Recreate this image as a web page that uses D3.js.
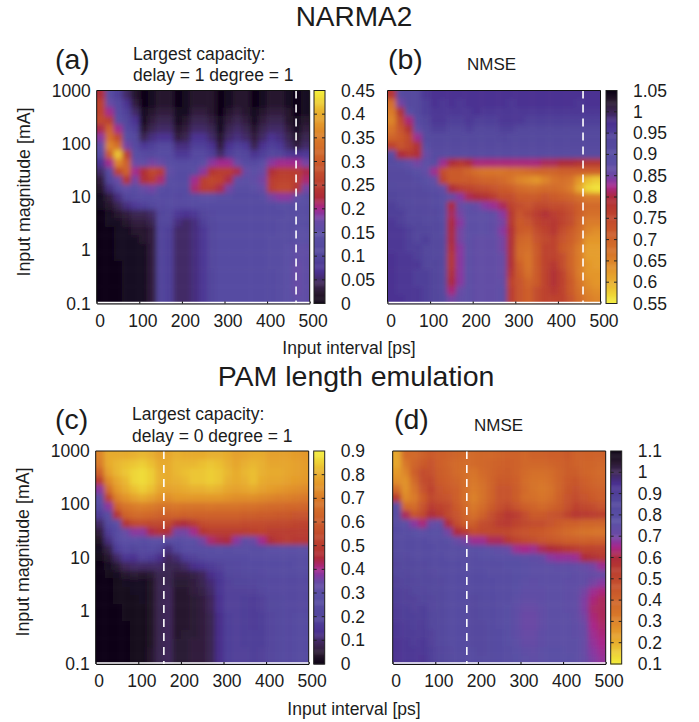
<!DOCTYPE html>
<html>
<head>
<meta charset="utf-8">
<script src="https://cdn.jsdelivr.net/npm/d3@7"></script>
<style>
body { margin: 0; background: #fff; }
text { font-family: "Liberation Sans", Arial, sans-serif; fill: #1c1c1c; }
</style>
</head>
<body>
<div id="chart"></div>
<script>
// Start of each interval column [ps], each column spans 20 ps.
var intervals = [0, 20, 40, 60, 80, 100, 120, 140, 160, 180, 200, 220, 240, 260, 280, 300, 320, 340, 360, 380, 400, 420, 440, 460, 480];
// Top edge of each magnitude row [mA], last entry closes the bottom row.
var magnitudes = [1000, 692, 479, 331, 229, 158, 110, 75.9, 52.5, 36.3, 25.1, 17.4, 12, 8.32, 5.75, 3.98, 2.75, 1.91, 1.32, 0.912, 0.631, 0.437, 0.302, 0.209, 0.145, 0.1];

var xTicks = [0, 100, 200, 300, 400, 500];
var yTicks = [0.1, 1, 10, 100, 1000];

var capacityA = [
[.23,.14,.09,.05,.02,.00,.01,.02,.02,.00,.01,.02,.02,.02,.00,.01,.02,.02,.00,.01,.02,.02,.01,.00,.01],
[.26,.17,.12,.07,.03,.00,.01,.02,.02,.00,.01,.02,.02,.02,.00,.01,.02,.02,.00,.01,.02,.02,.01,.00,.01],
[.26,.20,.13,.09,.05,.01,.02,.03,.03,.01,.01,.03,.03,.02,.00,.02,.03,.02,.01,.02,.03,.03,.02,.00,.01],
[.27,.25,.14,.10,.07,.01,.03,.04,.04,.01,.02,.04,.04,.03,.01,.03,.04,.03,.01,.03,.04,.04,.02,.01,.02],
[.22,.31,.20,.12,.09,.02,.04,.05,.05,.02,.03,.05,.05,.04,.01,.04,.05,.04,.02,.04,.05,.05,.03,.01,.03],
[.19,.33,.27,.14,.11,.04,.06,.07,.07,.03,.04,.07,.07,.05,.02,.05,.06,.05,.03,.05,.07,.06,.04,.02,.04],
[.16,.36,.33,.18,.12,.08,.09,.11,.11,.06,.06,.09,.09,.07,.03,.07,.09,.08,.04,.07,.09,.08,.05,.03,.05],
[.13,.30,.42,.25,.14,.12,.11,.13,.13,.08,.08,.12,.12,.09,.05,.09,.11,.10,.07,.09,.11,.10,.08,.07,.08],
[.07,.20,.36,.31,.17,.16,.18,.17,.14,.13,.13,.13,.15,.19,.20,.20,.17,.13,.12,.15,.19,.20,.20,.20,.18],
[.05,.13,.26,.31,.20,.23,.27,.25,.16,.13,.13,.14,.19,.24,.25,.25,.22,.17,.15,.17,.23,.25,.25,.25,.22],
[.03,.10,.17,.24,.18,.23,.25,.21,.14,.13,.13,.20,.25,.27,.26,.22,.16,.15,.16,.18,.25,.26,.26,.25,.21],
[.02,.06,.11,.16,.14,.17,.18,.14,.13,.13,.13,.21,.25,.25,.22,.18,.14,.14,.15,.17,.25,.27,.27,.24,.18],
[.01,.03,.06,.10,.12,.13,.13,.13,.13,.12,.13,.14,.15,.15,.14,.14,.13,.13,.13,.14,.18,.19,.19,.16,.14],
[.01,.02,.04,.06,.08,.09,.10,.12,.13,.12,.12,.13,.13,.13,.13,.13,.13,.13,.13,.13,.13,.14,.14,.14,.14],
[.00,.01,.02,.03,.04,.04,.05,.10,.11,.08,.07,.08,.10,.12,.13,.13,.13,.13,.13,.13,.13,.13,.14,.14,.14],
[.00,.01,.01,.02,.03,.03,.04,.10,.10,.06,.05,.06,.09,.11,.13,.13,.13,.13,.13,.13,.13,.14,.14,.14,.14],
[.00,.00,.01,.01,.02,.02,.03,.10,.09,.05,.05,.06,.08,.11,.13,.13,.13,.13,.13,.13,.13,.14,.14,.15,.15],
[.00,.00,.01,.01,.01,.02,.03,.10,.09,.05,.05,.06,.08,.11,.13,.13,.13,.13,.13,.13,.14,.14,.14,.15,.15],
[.00,.00,.01,.01,.01,.01,.03,.10,.09,.05,.05,.06,.08,.11,.13,.13,.13,.13,.13,.13,.14,.14,.15,.16,.16],
[.00,.00,.01,.01,.01,.01,.03,.10,.09,.05,.05,.06,.08,.11,.13,.13,.13,.13,.13,.13,.14,.14,.15,.16,.16],
[.00,.00,.00,.01,.01,.01,.03,.10,.09,.05,.05,.06,.08,.11,.13,.13,.13,.13,.13,.13,.14,.14,.15,.17,.16],
[.00,.00,.00,.01,.01,.01,.03,.10,.09,.05,.05,.06,.08,.10,.13,.13,.13,.13,.13,.13,.13,.14,.15,.17,.16],
[.00,.00,.00,.01,.01,.01,.03,.10,.09,.05,.05,.06,.08,.10,.13,.13,.13,.13,.13,.13,.13,.14,.15,.17,.16],
[.00,.00,.00,.01,.01,.01,.03,.10,.09,.05,.05,.06,.08,.10,.13,.13,.13,.13,.13,.13,.13,.14,.15,.17,.16],
[.00,.00,.00,.01,.01,.01,.03,.10,.09,.05,.05,.06,.08,.10,.13,.13,.13,.13,.13,.13,.13,.14,.15,.16,.16]
];

var nmseB = [
[.78,.91,.92,.93,.96,.97,.97,.97,.97,.97,.97,.97,.97,.97,.97,.97,.97,.97,.97,.97,.97,.97,.97,.97,.97],
[.68,.85,.92,.93,.95,.97,.96,.97,.96,.97,.97,.97,.97,.97,.96,.97,.97,.97,.97,.97,.97,.97,.96,.97,.97],
[.66,.79,.89,.93,.95,.96,.96,.96,.96,.96,.97,.96,.96,.96,.96,.96,.96,.96,.96,.96,.96,.96,.96,.96,.96],
[.65,.75,.82,.91,.94,.96,.96,.95,.95,.96,.95,.95,.95,.96,.96,.96,.95,.95,.95,.95,.95,.95,.95,.95,.95],
[.67,.73,.79,.87,.93,.95,.95,.94,.94,.95,.94,.94,.94,.95,.95,.94,.94,.94,.94,.94,.94,.94,.94,.94,.94],
[.70,.72,.75,.83,.92,.93,.93,.93,.93,.93,.93,.93,.93,.94,.93,.93,.93,.93,.93,.93,.93,.93,.93,.93,.93],
[.76,.73,.75,.79,.90,.92,.92,.92,.92,.92,.92,.92,.92,.92,.92,.92,.92,.92,.92,.92,.92,.92,.92,.92,.92],
[.90,.80,.78,.79,.86,.91,.91,.91,.91,.91,.91,.91,.91,.91,.91,.91,.91,.91,.91,.91,.91,.91,.91,.91,.91],
[.91,.90,.87,.85,.88,.90,.83,.80,.78,.80,.82,.82,.82,.82,.82,.82,.82,.82,.81,.81,.80,.80,.79,.78,.78],
[.92,.92,.91,.89,.87,.83,.74,.72,.72,.70,.68,.67,.67,.67,.68,.68,.69,.70,.70,.70,.71,.71,.71,.71,.71],
[.92,.92,.92,.91,.89,.87,.76,.72,.72,.72,.71,.70,.70,.69,.67,.65,.64,.63,.65,.67,.68,.67,.63,.59,.58],
[.93,.92,.92,.92,.91,.90,.87,.80,.77,.76,.75,.74,.73,.72,.71,.69,.68,.68,.69,.69,.68,.66,.61,.57,.56],
[.94,.93,.92,.92,.92,.91,.90,.87,.84,.81,.80,.79,.77,.74,.74,.72,.72,.72,.73,.72,.71,.70,.68,.66,.66],
[.95,.94,.93,.92,.92,.91,.90,.80,.86,.88,.86,.84,.83,.81,.76,.74,.73,.75,.75,.74,.74,.73,.71,.69,.69],
[.95,.95,.93,.93,.92,.92,.90,.81,.85,.88,.88,.88,.87,.84,.78,.73,.75,.77,.79,.77,.76,.74,.71,.68,.68],
[.96,.95,.94,.94,.93,.93,.91,.80,.84,.88,.88,.88,.87,.85,.78,.72,.73,.76,.77,.78,.76,.74,.70,.66,.66],
[.96,.96,.95,.94,.94,.93,.91,.80,.85,.88,.88,.88,.87,.84,.79,.72,.71,.74,.76,.78,.74,.72,.69,.65,.64],
[.96,.96,.95,.94,.95,.93,.92,.80,.85,.88,.87,.87,.87,.85,.79,.70,.69,.73,.75,.76,.73,.71,.68,.63,.63],
[.96,.96,.95,.95,.94,.93,.92,.79,.84,.88,.87,.87,.87,.85,.79,.69,.68,.72,.76,.76,.72,.70,.66,.62,.62],
[.97,.96,.96,.95,.94,.93,.92,.78,.84,.88,.87,.87,.87,.86,.79,.69,.67,.72,.76,.76,.74,.70,.66,.62,.62],
[.97,.96,.96,.96,.94,.94,.92,.78,.84,.88,.87,.87,.87,.86,.79,.71,.67,.72,.76,.78,.74,.70,.66,.63,.62],
[.97,.96,.96,.95,.95,.94,.92,.79,.84,.88,.87,.87,.87,.86,.78,.72,.68,.72,.76,.79,.76,.71,.66,.63,.63],
[.97,.96,.96,.95,.95,.94,.92,.80,.84,.88,.87,.87,.87,.87,.76,.73,.70,.72,.76,.79,.76,.72,.67,.64,.63],
[.97,.96,.96,.96,.95,.94,.92,.82,.86,.88,.87,.87,.87,.88,.77,.73,.71,.74,.76,.78,.76,.72,.68,.65,.64],
[.97,.97,.96,.96,.95,.94,.93,.85,.87,.88,.87,.87,.87,.88,.77,.73,.71,.74,.76,.76,.76,.73,.69,.66,.65]
];

var capacityC = [
[.72,.80,.80,.80,.81,.82,.81,.78,.79,.81,.80,.80,.80,.81,.81,.80,.78,.79,.80,.80,.78,.78,.78,.77,.76],
[.70,.80,.82,.83,.84,.85,.83,.80,.80,.82,.82,.82,.83,.84,.83,.81,.79,.81,.82,.81,.79,.79,.79,.78,.77],
[.62,.78,.82,.84,.86,.87,.85,.81,.80,.82,.83,.84,.84,.85,.84,.82,.80,.82,.83,.81,.80,.80,.79,.78,.77],
[.50,.73,.79,.82,.86,.87,.85,.81,.80,.81,.82,.84,.84,.85,.84,.81,.80,.81,.83,.80,.79,.79,.78,.77,.76],
[.38,.66,.76,.80,.83,.85,.83,.79,.78,.79,.80,.81,.81,.82,.81,.79,.78,.79,.80,.78,.77,.76,.75,.74,.73],
[.30,.52,.71,.75,.78,.80,.78,.75,.74,.76,.76,.76,.76,.76,.76,.75,.74,.74,.74,.73,.72,.71,.71,.70,.69],
[.26,.38,.62,.68,.70,.71,.70,.68,.68,.69,.68,.68,.68,.69,.68,.68,.68,.67,.67,.66,.65,.65,.64,.64,.63],
[.17,.28,.48,.62,.65,.65,.64,.62,.62,.63,.62,.62,.62,.62,.62,.62,.62,.61,.61,.60,.60,.59,.59,.58,.58],
[.10,.22,.30,.48,.54,.55,.54,.54,.54,.47,.46,.50,.55,.56,.56,.56,.56,.55,.55,.55,.54,.54,.54,.53,.52],
[.06,.17,.26,.34,.38,.38,.44,.47,.46,.36,.36,.40,.48,.50,.50,.50,.50,.50,.51,.52,.50,.50,.50,.50,.50],
[.03,.12,.24,.30,.30,.28,.30,.30,.28,.27,.30,.30,.36,.42,.44,.45,.38,.32,.35,.40,.46,.49,.50,.49,.49],
[.02,.07,.17,.24,.20,.24,.25,.20,.12,.20,.27,.28,.28,.28,.29,.28,.29,.29,.28,.28,.30,.30,.30,.30,.30],
[.01,.04,.10,.15,.14,.19,.17,.13,.09,.11,.17,.19,.22,.25,.25,.25,.25,.26,.27,.27,.27,.27,.27,.27,.27],
[.00,.02,.05,.09,.10,.10,.10,.10,.08,.08,.10,.13,.15,.17,.19,.23,.24,.25,.25,.25,.26,.26,.26,.27,.27],
[.00,.01,.02,.04,.05,.04,.05,.08,.08,.06,.06,.07,.09,.13,.16,.20,.21,.22,.23,.24,.25,.25,.25,.25,.25],
[.00,.00,.01,.02,.02,.02,.03,.08,.08,.05,.05,.06,.08,.11,.15,.19,.20,.20,.21,.23,.24,.24,.24,.24,.24],
[.00,.00,.01,.01,.02,.02,.03,.08,.09,.04,.04,.06,.07,.10,.15,.19,.19,.19,.19,.21,.24,.24,.24,.24,.24],
[.00,.00,.01,.01,.01,.02,.03,.08,.09,.04,.04,.05,.06,.09,.14,.19,.19,.18,.17,.19,.22,.23,.24,.24,.24],
[.00,.00,.00,.01,.01,.01,.03,.08,.09,.04,.04,.05,.06,.09,.14,.19,.19,.18,.17,.19,.22,.23,.24,.24,.24],
[.00,.00,.00,.01,.01,.01,.03,.08,.09,.04,.04,.05,.06,.08,.13,.18,.19,.18,.17,.18,.21,.23,.24,.25,.25],
[.00,.00,.00,.00,.01,.01,.03,.08,.09,.04,.04,.05,.06,.08,.13,.18,.19,.18,.17,.18,.21,.23,.24,.25,.25],
[.00,.00,.00,.00,.01,.01,.03,.08,.09,.04,.05,.05,.06,.08,.13,.18,.19,.18,.18,.18,.21,.23,.24,.25,.25],
[.00,.00,.00,.00,.01,.01,.03,.08,.09,.05,.05,.06,.06,.08,.13,.18,.19,.18,.18,.18,.21,.23,.24,.25,.25],
[.00,.00,.00,.00,.01,.01,.04,.08,.09,.05,.05,.06,.06,.08,.13,.18,.19,.19,.18,.19,.21,.23,.24,.25,.25],
[.00,.00,.00,.00,.01,.01,.04,.08,.09,.05,.05,.06,.06,.08,.13,.18,.19,.19,.18,.19,.21,.23,.24,.25,.25]
];

var nmseD = [
[.22,.38,.38,.41,.44,.42,.41,.40,.38,.38,.39,.39,.40,.41,.41,.39,.41,.41,.42,.42,.44,.41,.41,.41,.41],
[.22,.33,.40,.44,.46,.42,.40,.38,.37,.38,.39,.40,.41,.42,.41,.39,.39,.39,.40,.41,.43,.41,.40,.40,.39],
[.25,.30,.42,.48,.47,.43,.41,.38,.36,.34,.38,.40,.42,.43,.41,.38,.36,.36,.37,.40,.43,.43,.40,.39,.38],
[.28,.27,.38,.48,.50,.44,.42,.40,.36,.33,.36,.40,.44,.44,.42,.37,.35,.34,.36,.40,.44,.45,.42,.40,.39],
[.38,.27,.34,.46,.52,.46,.44,.42,.36,.32,.35,.40,.46,.46,.43,.38,.35,.33,.35,.40,.45,.47,.44,.42,.41],
[.55,.29,.32,.42,.50,.47,.46,.42,.36,.31,.35,.40,.46,.46,.43,.37,.36,.34,.36,.41,.46,.48,.46,.44,.42],
[.78,.38,.37,.46,.54,.52,.50,.44,.38,.33,.37,.43,.47,.50,.46,.42,.40,.38,.40,.43,.47,.52,.50,.48,.46],
[.80,.62,.46,.50,.60,.56,.50,.46,.40,.36,.41,.47,.52,.56,.54,.48,.44,.44,.46,.47,.52,.56,.55,.54,.53],
[.80,.76,.68,.64,.72,.74,.60,.49,.42,.43,.48,.50,.54,.55,.52,.50,.48,.48,.46,.44,.42,.42,.40,.40,.40],
[.81,.80,.78,.76,.78,.78,.70,.60,.55,.48,.50,.50,.50,.50,.47,.46,.45,.44,.42,.40,.38,.36,.35,.34,.34],
[.82,.82,.82,.81,.80,.79,.78,.72,.70,.66,.66,.62,.62,.56,.52,.50,.48,.46,.45,.44,.42,.42,.41,.42,.42],
[.83,.82,.82,.82,.81,.80,.80,.79,.78,.78,.77,.76,.74,.72,.66,.65,.66,.62,.60,.58,.56,.54,.52,.52,.52],
[.85,.84,.83,.82,.82,.81,.80,.80,.80,.79,.78,.78,.77,.77,.77,.76,.75,.73,.68,.67,.67,.66,.60,.58,.56],
[.87,.85,.85,.84,.83,.82,.81,.81,.80,.80,.80,.80,.79,.78,.78,.77,.76,.76,.76,.75,.75,.74,.72,.70,.66],
[.88,.87,.86,.85,.84,.83,.81,.81,.81,.82,.81,.80,.80,.79,.78,.77,.76,.76,.76,.76,.76,.75,.74,.73,.72],
[.89,.88,.87,.86,.85,.84,.82,.81,.81,.82,.82,.81,.80,.79,.78,.76,.75,.76,.76,.76,.75,.75,.74,.70,.68],
[.90,.89,.88,.87,.86,.85,.82,.81,.82,.83,.82,.81,.80,.79,.77,.75,.75,.75,.76,.76,.75,.74,.70,.66,.64],
[.90,.89,.89,.88,.87,.85,.82,.81,.82,.84,.83,.82,.80,.79,.76,.74,.74,.75,.76,.76,.75,.74,.69,.64,.62],
[.91,.90,.89,.90,.87,.85,.82,.81,.82,.84,.83,.82,.80,.78,.75,.72,.72,.74,.76,.76,.75,.74,.69,.63,.62],
[.91,.90,.90,.90,.88,.85,.82,.81,.82,.84,.83,.82,.80,.78,.75,.71,.71,.74,.76,.76,.76,.74,.70,.64,.62],
[.92,.91,.90,.91,.88,.85,.82,.81,.82,.84,.84,.82,.80,.78,.75,.71,.71,.74,.76,.76,.76,.75,.71,.65,.63],
[.92,.91,.91,.91,.89,.85,.82,.81,.82,.84,.84,.83,.81,.78,.75,.72,.72,.75,.76,.76,.76,.75,.72,.66,.64],
[.93,.92,.91,.92,.89,.86,.83,.81,.82,.84,.84,.83,.81,.78,.76,.73,.73,.75,.76,.76,.76,.76,.72,.67,.65],
[.93,.92,.92,.92,.90,.87,.84,.82,.82,.83,.84,.83,.81,.79,.77,.75,.74,.76,.77,.77,.76,.76,.72,.68,.66],
[.93,.92,.92,.93,.90,.88,.85,.83,.82,.82,.83,.83,.81,.80,.78,.76,.75,.76,.77,.77,.77,.76,.73,.69,.67]
];

var ticksA = [0, .05, .1, .15, .2, .25, .3, .35, .4, .45];
var ticksB = [.55, .6, .65, .7, .75, .8, .85, .9, .95, 1, 1.05];
var ticksC = [0, .1, .2, .3, .4, .5, .6, .7, .8, .9];
var ticksD = [.1, .2, .3, .4, .5, .6, .7, .8, .9, 1, 1.1];

// Colour map.
var paletteStops = [0, .05, .1, .15, .22, .33, .39, .42, .45, .5, .55, .66, .77, .85, .9, .96, 1];
var paletteColors = ["#0c0214", "#2a1a30", "#40285a", "#4a3090", "#53469c", "#5a50a5", "#6a4aa5", "#8838a0", "#a8288a", "#ad2a3a", "#b83a30", "#ca5a2c", "#d8782a", "#e49a2c", "#e8b030", "#efd838", "#f4ee3c"];
var palette = d3.scaleLinear().domain(paletteStops).range(paletteColors);

var panels = [
    { name: "(a)", data: capacityA, cbTicks: ticksA, flip: false, dash: 468, left: 96.7, top: 90.5, barLeft: 314, nameX: 55, noteX: 133, note: ["Largest capacity:", "delay = 1 degree = 1"] },
    { name: "(b)", data: nmseB, cbTicks: ticksB, flip: true, dash: 459, left: 387.5, top: 90.5, barLeft: 606, nameX: 388, noteX: 467, note: ["NMSE"] },
    { name: "(c)", data: capacityC, cbTicks: ticksC, flip: false, dash: 160, left: 95.7, top: 451, barLeft: 313.7, nameX: 55, noteX: 132, note: ["Largest capacity:", "delay = 0 degree = 1"] },
    { name: "(d)", data: nmseD, cbTicks: ticksD, flip: true, dash: 174, left: 392.7, top: 451, barLeft: 610.7, nameX: 394, noteX: 474, note: ["NMSE"] }
];

var _size = 213;
var _barWidth = 11;

var svg = d3.select("#chart").append("svg")
    .attr("width", 699)
    .attr("height", 722)
    .style("display", "block");

// Soften the cell edges a little, the original is a fine smoothed grid.
svg.append("defs").append("filter")
    .attr("id", "soft")
    .attr("filterUnits", "userSpaceOnUse")
    .attr("x", 0).attr("y", 0).attr("width", 699).attr("height", 722)
    .append("feGaussianBlur")
    .attr("stdDeviation", 2.5);

function drawPanel(p, i) {
    var x = d3.scaleLinear().domain([0, 500]).range([p.left, p.left + _size]);
    var y = d3.scaleLog().domain([0.1, 1000]).range([p.top + _size, p.top]);

    var extent = d3.extent(p.cbTicks);
    var t = d3.scaleLinear().domain(p.flip ? [extent[1], extent[0]] : extent).range([0, 1]);

    svg.select("defs").append("clipPath")
        .attr("id", "clip" + i)
        .append("rect")
        .attr("x", p.left).attr("y", p.top)
        .attr("width", _size).attr("height", _size);

    var cells = svg.append("g")
        .attr("clip-path", "url(#clip" + i + ")")
        .append("g")
        .attr("filter", "url(#soft)");

    // Outer cells run past the frame so the blur keeps its colour at the edge.
    p.data.forEach(function(row, r) {
        cells.selectAll(".r" + r)
            .data(row)
            .enter()
            .append("rect")
            .attr("class", "r" + r)
            .attr("x", (d, c) => x(intervals[c]) - (c == 0 ? 12 : 0))
            .attr("y", y(magnitudes[r]) - (r == 0 ? 12 : 0))
            .attr("width", (d, c) => x(20) - x(0) + 0.5 + (c == 0 || c == intervals.length - 1 ? 12 : 0))
            .attr("height", y(magnitudes[r + 1]) - y(magnitudes[r]) + 0.5 + (r == 0 || r == p.data.length - 1 ? 12 : 0))
            .attr("fill", d => palette(t(d)));
    });

    // Dashed marker.
    svg.append("line")
        .attr("x1", x(p.dash)).attr("x2", x(p.dash))
        .attr("y1", y(1000)).attr("y2", y(0.1))
        .attr("stroke", "#fff")
        .attr("stroke-width", 1.6)
        .attr("stroke-dasharray", "8,6");

    // Frame, the bottom edge shows a white line on top of the axis.
    svg.append("path")
        .attr("d", "M" + p.left + "," + (p.top + _size) + "V" + p.top + "H" + (p.left + _size) + "V" + (p.top + _size))
        .attr("fill", "none")
        .attr("stroke", "#111")
        .attr("stroke-width", 1);
    svg.append("line")
        .attr("x1", p.left).attr("x2", p.left + _size)
        .attr("y1", p.top + _size - 1).attr("y2", p.top + _size - 1)
        .attr("stroke", "#fff")
        .attr("stroke-width", 1.5);

    var xAxis = svg.append("g")
        .attr("transform", "translate(0," + (p.top + _size) + ")")
        .call(d3.axisBottom(x).tickValues(xTicks).tickSizeInner(-2).tickSizeOuter(0).tickPadding(11));
    xAxis.select(".domain").attr("stroke", "#111");
    xAxis.selectAll("text")
        .attr("font-size", 17.5)
        .attr("dx", 3);

    // Only the left column carries the magnitude ticks.
    if(!p.flip) {
        var yAxis = svg.append("g")
            .attr("transform", "translate(" + p.left + ",0)")
            .call(d3.axisLeft(y).tickValues(yTicks).tickFormat(d => d).tickSize(0).tickPadding(6));
        yAxis.select(".domain").remove();
        yAxis.selectAll("text").attr("font-size", 17.5);
    }

    drawColorBar(p, t, extent);

    // Panel letter and note above it.
    svg.append("text")
        .attr("x", p.nameX)
        .attr("y", p.top - 22)
        .attr("font-size", 28.5)
        .attr("fill", "#333")
        .text(p.name);

    svg.selectAll(".note" + i)
        .data(p.note)
        .enter()
        .append("text")
        .attr("x", p.noteX)
        .attr("y", (d, k) => p.note.length > 1 ? p.top - 31 + k * 21.5 : p.top - 20.5)
        .attr("font-size", p.note.length > 1 ? 17.5 : 17)
        .text(d => d);
}

function drawColorBar(p, t, extent) {
    var yBar = d3.scaleLinear().domain(extent).range([p.top + _size, p.top]);
    var barSteps = d3.range(0, 200);
    var stepValue = (extent[1] - extent[0]) / barSteps.length;

    svg.append("g").selectAll("rect")
        .data(barSteps)
        .enter()
        .append("rect")
        .attr("x", p.barLeft)
        .attr("y", d => yBar(extent[0] + (d + 1) * stepValue))
        .attr("width", _barWidth)
        .attr("height", d => yBar(extent[0]) - yBar(extent[0] + stepValue) + 0.5)
        .attr("fill", d => palette(t(extent[0] + (d + 0.5) * stepValue)));

    svg.append("rect")
        .attr("x", p.barLeft).attr("y", p.top)
        .attr("width", _barWidth).attr("height", _size)
        .attr("fill", "none")
        .attr("stroke", "#222");

    // Ticks stick in from both sides of the bar.
    var inner = p.cbTicks.slice(1, -1);
    [[p.barLeft, p.barLeft + 3], [p.barLeft + _barWidth - 3, p.barLeft + _barWidth]].forEach(function(span) {
        svg.append("g").selectAll("line")
            .data(inner)
            .enter()
            .append("line")
            .attr("x1", span[0]).attr("x2", span[1])
            .attr("y1", d => yBar(d)).attr("y2", d => yBar(d))
            .attr("stroke", "#222");
    });

    svg.append("g").selectAll("text")
        .data(p.cbTicks)
        .enter()
        .append("text")
        .attr("x", p.barLeft + _barWidth + 16)
        .attr("y", d => yBar(d) + 6)
        .attr("font-size", 17.5)
        .text(d => d);
}

panels.forEach(drawPanel);

// Shared labels.
svg.append("text").attr("x", 354).attr("y", 26).attr("text-anchor", "middle").attr("font-size", 28).attr("fill", "#333").text("NARMA2");
svg.append("text").attr("x", 356).attr("y", 386).attr("text-anchor", "middle").attr("font-size", 28.5).attr("fill", "#333").text("PAM length emulation");
svg.append("text").attr("x", 349).attr("y", 354).attr("text-anchor", "middle").attr("font-size", 17.5).text("Input interval [ps]");
svg.append("text").attr("x", 354).attr("y", 715).attr("text-anchor", "middle").attr("font-size", 17.5).text("Input interval [ps]");
svg.append("text").attr("transform", "translate(30,192) rotate(-90)").attr("text-anchor", "middle").attr("font-size", 17.8).text("Input magnitude [mA]");
svg.append("text").attr("transform", "translate(29,552) rotate(-90)").attr("text-anchor", "middle").attr("font-size", 17.8).text("Input magnitude [mA]");
</script>
</body>
</html>
